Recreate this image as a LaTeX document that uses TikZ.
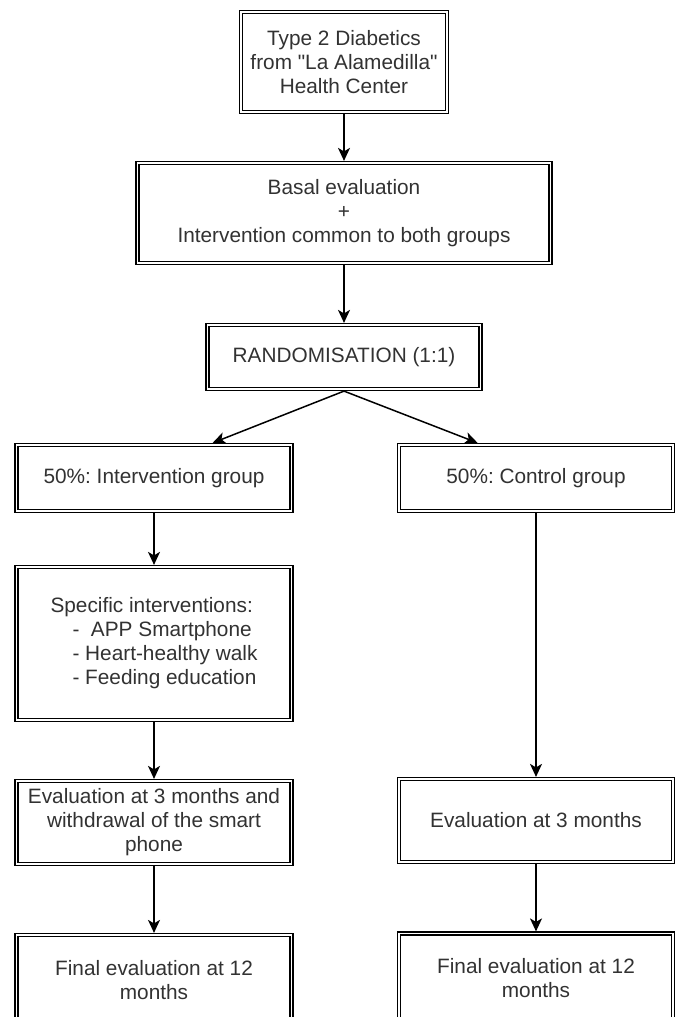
\documentclass[tikz,border=0pt]{standalone}
\usepackage{fontspec}
\setmainfont{Liberation Sans}[Ligatures=TeXOff]
\usetikzlibrary{arrows.meta,calc}
\definecolor{txt}{RGB}{50,50,50}
\frenchspacing
\begin{document}
\begin{tikzpicture}[x=1pt,y=-1pt,
  box/.style={draw=black, line width=1.3pt, double=white, double distance=1.6pt,
    outer sep=2.1pt, inner sep=2pt, align=center, text=txt,
    font=\fontsize{20.8pt}{24pt}\selectfont\frenchspacing},
  arr/.style={draw=black, line width=1.5pt, -{Stealth[length=13pt,width=12pt,inset=3.5pt]}}]
\useasboundingbox (0,0) rectangle (682,1017);
\clip (0,0) rectangle (682,1017);
\fill[white] (0,0) rectangle (682,1017);

\node[box, minimum width=206pt, minimum height=100pt] (top) at (344,62)
  {Type 2 Diabetics\\from "La Alamedilla"\\Health Center};
\node[box, minimum width=413pt, minimum height=100pt] (basal) at (344,213)
  {Basal evaluation\\+\\Intervention common to both groups};
\node[box, minimum width=273pt, minimum height=64pt] (rand) at (344,357)
  {RANDOMISATION (1:1)};
\node[box, minimum width=275pt, minimum height=66pt] (int) at (154,478)
  {50\%: Intervention group};
\node[box, minimum width=274pt, minimum height=66pt] (ctrl) at (536,478)
  {50\%: Control group};
\node[box, minimum width=275pt, minimum height=153pt, align=left] (spec) at (154,643.5)
  {Specific interventions:\\\hspace*{22pt}-\ \ APP Smartphone\\\hspace*{22pt}- Heart-healthy walk\\\hspace*{22pt}- Feeding education};
\node[box, minimum width=275pt, minimum height=83pt] (ev3L) at (154,822.5)
  {Evaluation at 3 months and\\withdrawal of the smart\\phone};
\node[box, minimum width=274pt, minimum height=83pt] (ev3R) at (536,820.5)
  {Evaluation at 3 months};
\node[box, minimum width=275pt, minimum height=90pt] (finL) at (154,980)
  {Final evaluation at 12\\months};
\node[box, minimum width=274pt, minimum height=90pt] (finR) at (536,978.5)
  {Final evaluation at 12\\months};

\draw[arr] (top.south) -- (basal.north);
\draw[arr] (basal.south) -- (rand.north);
\draw[arr] (rand.south) -- ($(int.north west)!0.71!(int.north east)$);
\draw[arr] (rand.south) -- ($(ctrl.north west)!0.29!(ctrl.north east)$);
\draw[arr] (int.south) -- (spec.north);
\draw[arr] (spec.south) -- (ev3L.north);
\draw[arr] (ev3L.south) -- (finL.north);
\draw[arr] (ctrl.south) -- (ev3R.north);
\draw[arr] (ev3R.south) -- (finR.north);
\end{tikzpicture}
\end{document}
